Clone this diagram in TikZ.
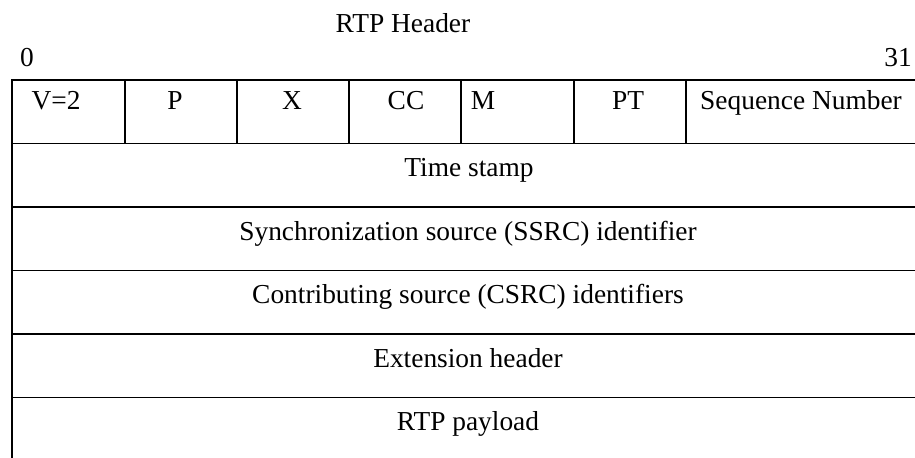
\documentclass[tikz,border=0pt]{standalone}
\usepackage{fontspec}
\setmainfont{Liberation Serif}
\begin{document}
\begin{tikzpicture}[x=0.5pt,y=-0.5pt,
  rule/.style={line width=0.95pt,black},
  lbl/.style={anchor=base,inner sep=0pt,font=\fontsize{13.7}{16}\selectfont}]
\useasboundingbox (0,0) rectangle (915,458);
% header caption and bit numbers
\node[lbl] (title) at (403,33) {RTP Header};
\node[lbl] (b0) at (27,67) {0};
\node[lbl] (b31) at (898,67) {31};
% grid of the header (open on the right and bottom)
\draw[rule] (930,80) -- (12,80) -- (12,470);
\foreach \y in {143.5,207,270.5,334,397.5}
  \draw[rule] (12,\y) -- (930,\y);
\foreach \x in {125,237,349,461,574,686}
  \draw[rule] (\x,80) -- (\x,143.5);
% first word fields
\node[lbl] (v)  at (56,110)  {V=2};
\node[lbl] (p)  at (175,110) {P};
\node[lbl] (xb) at (292,110) {X};
\node[lbl] (cc) at (406,110) {CC};
\node[lbl] (m)  at (483,110) {M};
\node[lbl] (pt) at (628,110) {PT};
\node[lbl] (seq) at (801,110) {Sequence Number};
% full-width rows
\node[lbl] (ts)   at (469,177) {Time stamp};
\node[lbl] (ssrc) at (468,241) {Synchronization source (SSRC) identifier};
\node[lbl] (csrc) at (468,304) {Contributing source (CSRC) identifiers};
\node[lbl] (ext)  at (468,368) {Extension header};
\node[lbl] (pay)  at (468,431) {RTP payload};
\end{tikzpicture}
\end{document}
